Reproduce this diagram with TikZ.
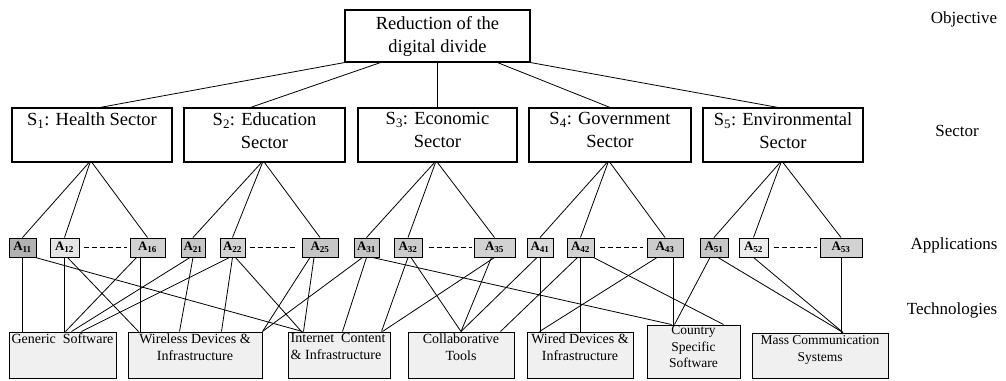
\documentclass[tikz,border=0pt]{standalone}
\usepackage{fontspec}
\setmainfont{Liberation Serif}
\begin{document}
\begin{tikzpicture}[x=1pt,y=-1pt,
  box/.style={draw=black, line width=1.1pt, fill=white, inner sep=0pt},
  stxt/.style={align=center, inner sep=0pt, font=\fontsize{18.5}{23}\selectfont},
  app/.style={draw=black, line width=1pt, inner sep=0pt, minimum height=19pt, font=\fontsize{13}{13}\selectfont\bfseries},
  tech/.style={draw=black, line width=1pt, fill=gray!12, inner sep=0pt},
  ttxt/.style={align=center, inner sep=0pt, font=\fontsize{14}{17}\selectfont},
  conn/.style={line width=0.8pt},
  dashes/.style={line width=1pt, dash pattern=on 5pt off 3pt},
  lab/.style={font=\fontsize{17}{19}\selectfont, inner sep=0pt}]
\useasboundingbox (0,0) rectangle (1006,380);

% objective
\node[box, minimum width=185pt, minimum height=52pt, stxt] (obj) at (437.5,36) {Reduction of the\\digital divide};

% sectors
\node[box, minimum width=160pt, minimum height=54pt] (s1) at (92,135) {};
\node[box, minimum width=161pt, minimum height=54pt] (s2) at (264.5,135) {};
\node[box, minimum width=159pt, minimum height=54pt] (s3) at (437.5,135) {};
\node[box, minimum width=162pt, minimum height=54pt] (s4) at (610,135) {};
\node[box, minimum width=160pt, minimum height=54pt] (s5) at (783,135) {};
\node[stxt, anchor=north] (s1t) at ([yshift=-5pt]s1.north) {S\textsubscript{1}: Health Sector};
\node[stxt, anchor=north] (s2t) at ([yshift=-5pt]s2.north) {S\textsubscript{2}: Education\\Sector};
\node[stxt, anchor=north] (s3t) at ([yshift=-5pt]s3.north) {S\textsubscript{3}: Economic\\Sector};
\node[stxt, anchor=north] (s4t) at ([yshift=-5pt]s4.north) {S\textsubscript{4}: Government\\Sector};
\node[stxt, anchor=north] (s5t) at ([yshift=-5pt]s5.north) {S\textsubscript{5}: Environmental\\Sector};

% applications
\node[app, fill=gray!60, minimum width=27pt] (a11) at (22.5,247.5) {A\textsubscript{11}};
\node[app, fill=gray!20, minimum width=29pt] (a12) at (64.5,247.5) {A\textsubscript{12}};
\node[app, fill=gray!35, minimum width=35pt] (a16) at (147.5,247.5) {A\textsubscript{16}};
\node[app, fill=gray!45, minimum width=24pt] (a21) at (193,247.5) {A\textsubscript{21}};
\node[app, fill=gray!35, minimum width=25pt] (a22) at (232.5,247.5) {A\textsubscript{22}};
\node[app, fill=gray!45, minimum width=36pt] (a2x) at (320,247.5) {A\textsubscript{25}};
\node[app, fill=gray!45, minimum width=25pt] (a31) at (366.5,247.5) {A\textsubscript{31}};
\node[app, fill=gray!40, minimum width=28pt] (a32) at (408,247.5) {A\textsubscript{32}};
\node[app, fill=gray!35, minimum width=41pt] (a3x) at (494.5,247.5) {A\textsubscript{35}};
\node[app, fill=gray!30, minimum width=26pt] (a41) at (540,247.5) {A\textsubscript{41}};
\node[app, fill=gray!35, minimum width=27pt] (a42) at (580.5,247.5) {A\textsubscript{42}};
\node[app, fill=gray!40, minimum width=36pt] (a4x) at (665,247.5) {A\textsubscript{43}};
\node[app, fill=gray!45, minimum width=28pt] (a51) at (714,247.5) {A\textsubscript{51}};
\node[app, fill=gray!15, minimum width=29pt] (a52) at (753.5,247.5) {A\textsubscript{52}};
\node[app, fill=gray!35, minimum width=42pt] (a5x) at (841,247.5) {A\textsubscript{53}};

\draw[dashes] ([xshift=4pt]a12.east) -- ([xshift=-3pt]a16.west);
\draw[dashes] ([xshift=4pt]a22.east) -- ([xshift=-5pt]a2x.west);
\draw[dashes] ([xshift=6pt]a32.east) -- ([xshift=-2pt]a3x.west);
\draw[dashes] ([xshift=5pt]a42.east) -- ([xshift=-4pt]a4x.west);
\draw[dashes] ([xshift=5pt]a52.east) -- ([xshift=-3pt]a5x.west);

% technologies
\node[tech, minimum width=107pt, minimum height=46pt] (tGen) at (62.5,355) {};
\node[tech, minimum width=134pt, minimum height=46pt] (tWir) at (195,355) {};
\node[tech, minimum width=102pt, minimum height=46pt] (tInt) at (339,355) {};
\node[tech, minimum width=106pt, minimum height=46pt] (tCol) at (461,355) {};
\node[tech, minimum width=106pt, minimum height=46pt] (tWrd) at (580,355) {};
\node[tech, minimum width=93pt, minimum height=53pt] (tCty) at (693.5,351.5) {};
\node[tech, minimum width=136pt, minimum height=45pt] (tMas) at (820,355.5) {};
\node[ttxt, anchor=north] (tGent) at ([yshift=-2pt]tGen.north) {Generic\ \ Software};
\node[ttxt, anchor=north] (tWirt) at ([yshift=-2pt]tWir.north) {Wireless Devices \&\\Infrastructure};
\node[ttxt, align=left, anchor=north west] (tIntt) at ([xshift=3pt,yshift=-2pt]tInt.north west) {Internet\ \ Content\\\& Infrastructure};
\node[ttxt, anchor=north] (tColt) at ([yshift=-2pt]tCol.north) {Collaborative\\Tools};
\node[ttxt, anchor=north] (tWrdt) at ([yshift=-2pt]tWrd.north) {Wired Devices \&\\Infrastructure};
\node[ttxt, font=\fontsize{13.5}{16.5}\selectfont, anchor=north] (tCtyt) at ([yshift=-1pt]tCty.north) {Country\\Specific\\Software};
\node[ttxt, font=\fontsize{13.5}{17}\selectfont, anchor=north] (tMast) at ([yshift=-3pt]tMas.north) {Mass Communication\\Systems};

% level labels
\node[lab] (lObj) at (964,19) {Objective};
\node[lab] (lSec) at (957,131) {Sector};
\node[lab] (lApp) at (954,245) {Applications};
\node[lab] (lTec) at (952,310) {Technologies};

% objective -> sectors
\draw[conn] (obj.south west) -- ([xshift=8pt]s1.north);
\draw[conn] ([xshift=-57pt]obj.south) -- ([xshift=-14pt]s2.north);
\draw[conn] (obj.south) -- (s3.north);
\draw[conn] ([xshift=60pt]obj.south) -- (s4.north);
\draw[conn] (obj.south east) -- ([xshift=-5pt]s5.north);

% sectors -> applications
\foreach \s/\a/\b/\c in {s1/a11/a12/a16, s2/a21/a22/a2x, s3/a31/a32/a3x, s4/a41/a42/a4x, s5/a51/a52/a5x}{
  \draw[conn] ([xshift=-3pt]\s.south) -- (\a.north);
  \draw[conn] ([xshift=-2pt]\s.south) -- (\b.north);
  \draw[conn] (\s.south) -- (\c.north);
}

% applications -> technologies
\draw[conn] (a11.south) -- (a11.south |- tGen.north);
\draw[conn] ([xshift=-1pt]a11.south east) -- ([xshift=15pt]tInt.north west);
\draw[conn] (a12.south) -- (a12.south |- tGen.north);
\draw[conn] ([xshift=3pt]a12.south) -- ([xshift=11pt]tWir.north west);
\draw[conn] ([xshift=-7pt]a16.south) -- ([xshift=-7pt]a16.south |- tWir.north);
\draw[conn] ([xshift=-11pt]a16.south) -- ([xshift=57pt]tGen.north west);
\draw[conn] (a21.south) -- ([xshift=52pt]tWir.north west);
\draw[conn] ([xshift=-3pt]a21.south) -- ([xshift=63pt]tGen.north west);
\draw[conn] (a22.south) -- ([xshift=94pt]tWir.north west);
\draw[conn] ([xshift=-3pt]a22.south) -- ([xshift=73pt]tGen.north west);
\draw[conn] ([xshift=3pt]a22.south) -- ([xshift=14pt]tInt.north west);
\draw[conn] ([xshift=-6pt]a2x.south) -- ([xshift=16pt]tInt.north west);
\draw[conn] ([xshift=-10pt]a2x.south) -- (tWir.north east);
\draw[conn] ([xshift=-4pt]a31.south) -- (tWir.north east);
\draw[conn] (a31.south) -- ([xshift=55pt]tInt.north west);
\draw[conn] ([xshift=6pt]a31.south) -- ([xshift=25pt]tCty.north west);
\draw[conn] (a32.south) -- ([xshift=94pt]tInt.north west);
\draw[conn] ([xshift=3pt]a32.south) -- (tCol.north);
\draw[conn] (a3x.south) -- ([xshift=95pt]tInt.north west);
\draw[conn] ([xshift=-3pt]a3x.south) -- (tCol.north);
\draw[conn] (a41.south) -- (a41.south |- tWrd.north);
\draw[conn] ([xshift=-3pt]a41.south) -- (tCol.north);
\draw[conn] (a42.south) -- (a42.south |- tWrd.north);
\draw[conn] ([xshift=-3pt]a42.south) -- ([xshift=-14pt]tCol.north east);
\draw[conn] ([xshift=-1pt]a42.south east) -- ([xshift=-17pt]tCty.north east);
\draw[conn] ([xshift=-8pt]a4x.south) -- ([xshift=13pt]tWrd.north west);
\draw[conn] ([xshift=8pt]a4x.south) -- ([xshift=8pt]a4x.south |- tCty.north);
\draw[conn] ([xshift=-4pt]a51.south) -- ([xshift=28pt]tCty.north west);
\draw[conn] ([xshift=4pt]a51.south) -- ([xshift=23pt]tMas.north);
\draw[conn] (a52.south) -- ([xshift=23pt]tMas.north);
\draw[conn] (a5x.south) -- ([xshift=21pt]tMas.north);
\end{tikzpicture}
\end{document}
